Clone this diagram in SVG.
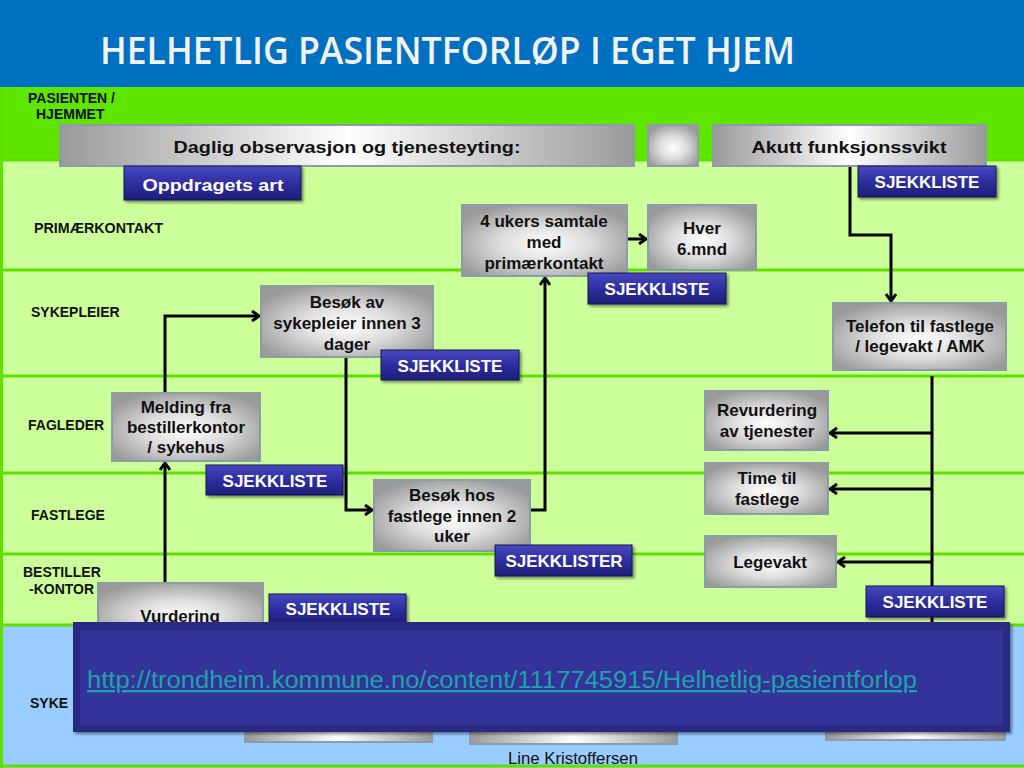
<svg xmlns="http://www.w3.org/2000/svg" width="1024" height="768" viewBox="0 0 1024 768">
<defs>
<radialGradient id="gray" cx="50%" cy="55%" r="60%">
<stop offset="0" stop-color="#FFFFFF"/>
<stop offset="0.45" stop-color="#DDDDDD"/>
<stop offset="1" stop-color="#9A9A9A"/>
</radialGradient>
<linearGradient id="grayH" x1="0" y1="0" x2="1" y2="0">
<stop offset="0" stop-color="#9A9A9A"/>
<stop offset="0.5" stop-color="#FFFFFF"/>
<stop offset="1" stop-color="#9A9A9A"/>
</linearGradient>
<linearGradient id="btn" x1="0" y1="0" x2="0" y2="1">
<stop offset="0" stop-color="#4848C0"/>
<stop offset="0.5" stop-color="#2E2EA0"/>
<stop offset="1" stop-color="#1E1E78"/>
</linearGradient>
<filter id="sh" x="-10%" y="-20%" width="130%" height="160%">
<feDropShadow dx="2" dy="2" stdDeviation="1.5" flood-color="#000" flood-opacity="0.45"/>
</filter>
<marker id="arr" markerWidth="12" markerHeight="12" refX="9" refY="6" orient="auto" markerUnits="userSpaceOnUse">
<path d="M2,1 L9,6 L2,11" fill="none" stroke="#000" stroke-width="3"/>
</marker>
</defs>
<style>
.node{fill:url(#gray);stroke:#8C9CA8;stroke-width:2}
.wide{fill:url(#grayH);stroke:#8C9CA8;stroke-width:2}
.btn{fill:url(#btn);stroke:#14145A;stroke-width:1;filter:url(#sh)}
.t{font-family:"Liberation Sans",Arial,sans-serif;font-weight:bold;font-size:17px;fill:#111;text-anchor:middle}
.bt{font-family:"Liberation Sans",Arial,sans-serif;font-weight:bold;font-size:17px;fill:#FFFFFF;text-anchor:middle}
.lane{font-family:"Liberation Sans",Arial,sans-serif;font-weight:bold;font-size:14px;fill:#111}
.c{fill:none;stroke:#000;stroke-width:3}
.ln{stroke:#5EE000;stroke-width:3}
</style>
<!-- background -->
<rect x="0" y="0" width="1024" height="768" fill="#CCFF99"/>
<rect x="0" y="0" width="1024" height="87" fill="#0070C0"/>
<rect x="0" y="87" width="1024" height="73" fill="#5EE600"/>
<rect x="0" y="625" width="1024" height="143" fill="#99CCFF"/>
<line class="ln" x1="0" y1="160" x2="1024" y2="160"/>
<line class="ln" x1="0" y1="270" x2="1024" y2="270"/>
<line class="ln" x1="0" y1="376" x2="1024" y2="376"/>
<line class="ln" x1="0" y1="473" x2="1024" y2="473"/>
<line class="ln" x1="0" y1="554" x2="1024" y2="554"/>
<line class="ln" x1="0" y1="625" x2="1024" y2="625"/>
<line class="ln" x1="0" y1="766" x2="1024" y2="766"/>
<line class="ln" x1="1.5" y1="87" x2="1.5" y2="768"/>
<text x="100" y="64" font-family="'Open Sans',sans-serif" font-weight="600" font-size="37" fill="#F2F2F2" textLength="695" lengthAdjust="spacingAndGlyphs">HELHETLIG PASIENTFORLØP I EGET HJEM</text>
<!-- lane labels -->
<g id="lanes">
<text class="lane" x="28" y="103" textLength="87" lengthAdjust="spacingAndGlyphs">PASIENTEN /</text>
<text class="lane" x="36" y="119">HJEMMET</text>
<text class="lane" x="34" y="233" textLength="129" lengthAdjust="spacingAndGlyphs">PRIMÆRKONTAKT</text>
<text class="lane" x="31" y="317">SYKEPLEIER</text>
<text class="lane" x="28" y="430">FAGLEDER</text>
<text class="lane" x="31" y="520">FASTLEGE</text>
<text class="lane" x="23" y="577">BESTILLER</text>
<text class="lane" x="29" y="594">-KONTOR</text>
<text class="lane" x="30" y="708">SYKE</text>
</g>
<!-- connectors -->
<g id="connectors">
<path class="c" d="M165,583 V463" marker-end="url(#arr)"/>
<path class="c" d="M165,393 V316 H259" marker-end="url(#arr)"/>
<path class="c" d="M346,357 V510 H372" marker-end="url(#arr)"/>
<path class="c" d="M530,510 H545 V278" marker-end="url(#arr)"/>
<path class="c" d="M627,239 H646" marker-end="url(#arr)"/>
<path class="c" d="M850,166 V235 H891 V301" marker-end="url(#arr)"/>
<path class="c" d="M932,376 V630"/>
<path class="c" d="M932,433 H830" marker-end="url(#arr)"/>
<path class="c" d="M932,489 H830" marker-end="url(#arr)"/>
<path class="c" d="M932,562 H838" marker-end="url(#arr)"/>
</g>
<!-- nodes -->
<g id="n-daglig"><rect class="wide" x="60" y="125" width="574" height="41"/><text class="t" x="347" y="153" font-size="20" textLength="347" lengthAdjust="spacingAndGlyphs">Daglig observasjon og tjenesteyting:</text></g>
<g id="n-square"><rect class="node" x="648" y="125" width="50" height="41"/></g>
<g id="n-akutt"><rect class="wide" x="713" y="125" width="273" height="41"/><text class="t" x="849" y="153" font-size="20" textLength="195" lengthAdjust="spacingAndGlyphs">Akutt funksjonssvikt</text></g>
<g id="b-oppdrag"><rect class="btn" x="124" y="166" width="177" height="34"/><text class="bt" x="213" y="191" font-size="20" textLength="141" lengthAdjust="spacingAndGlyphs">Oppdragets art</text></g>
<g id="b-sjekk1"><rect class="btn" x="858" y="166" width="138" height="31"/><text class="bt" x="927" y="188">SJEKKLISTE</text></g>
<g id="n-4uker"><rect class="node" x="462" y="205" width="165" height="71"/><text class="t" x="544" y="227">4 ukers samtale</text><text class="t" x="544" y="248">med</text><text class="t" x="544" y="269">primærkontakt</text></g>
<g id="n-hver"><rect class="node" x="648" y="205" width="108" height="65"/><text class="t" x="702" y="234">Hver</text><text class="t" x="702" y="255">6.mnd</text></g>
<g id="b-sjekk2"><rect class="btn" x="588" y="273" width="138" height="31"/><text class="bt" x="657" y="295">SJEKKLISTE</text></g>
<g id="n-besokav"><rect class="node" x="261" y="286" width="172" height="71"/><text class="t" x="347" y="308">Besøk av</text><text class="t" x="347" y="329">sykepleier innen 3</text><text class="t" x="347" y="350">dager</text></g>
<g id="b-sjekk3"><rect class="btn" x="381" y="350" width="138" height="30"/><text class="bt" x="450" y="372">SJEKKLISTE</text></g>
<g id="n-telefon"><rect class="node" x="833" y="303" width="173" height="67"/><text class="t" x="920" y="332">Telefon til fastlege</text><text class="t" x="920" y="352">/ legevakt / AMK</text></g>
<g id="n-melding"><rect class="node" x="112" y="393" width="148" height="68"/><text class="t" x="186" y="413">Melding fra</text><text class="t" x="186" y="433">bestillerkontor</text><text class="t" x="186" y="453">/ sykehus</text></g>
<g id="b-sjekk4"><rect class="btn" x="206" y="465" width="137" height="30"/><text class="bt" x="275" y="487">SJEKKLISTE</text></g>
<g id="n-besokhos"><rect class="node" x="374" y="480" width="156" height="71"/><text class="t" x="452" y="501">Besøk hos</text><text class="t" x="452" y="522">fastlege innen 2</text><text class="t" x="452" y="542">uker</text></g>
<g id="b-sjekk5"><rect class="btn" x="495" y="545" width="137" height="31"/><text class="bt" x="564" y="567">SJEKKLISTER</text></g>
<g id="n-revurd"><rect class="node" x="705" y="391" width="123" height="59"/><text class="t" x="767" y="416">Revurdering</text><text class="t" x="767" y="437">av tjenester</text></g>
<g id="n-time"><rect class="node" x="705" y="463" width="123" height="51"/><text class="t" x="767" y="484">Time til</text><text class="t" x="767" y="505">fastlege</text></g>
<g id="n-legevakt"><rect class="node" x="705" y="536" width="131" height="51"/><text class="t" x="770" y="568">Legevakt</text></g>
<g id="b-sjekk6"><rect class="btn" x="866" y="586" width="138" height="31"/><text class="bt" x="935" y="608">SJEKKLISTE</text></g>
<g id="n-vurdering"><rect class="node" x="98" y="583" width="165" height="60"/><text class="t" x="180" y="622">Vurdering</text></g>
<g id="b-sjekk7"><rect class="btn" x="269" y="594" width="137" height="30"/><text class="bt" x="338" y="615">SJEKKLISTE</text></g>
<!-- hidden lower nodes (bottom edges visible) -->
<g id="n-low1"><rect class="wide" x="245" y="700" width="187" height="42"/></g>
<g id="n-low2"><rect class="wide" x="470" y="700" width="207" height="44"/></g>
<g id="n-low3"><rect class="wide" x="826" y="700" width="179" height="40"/></g>
<!-- overlay -->
<g id="overlay">
<rect x="73" y="622" width="937" height="110" fill="#2C2C85" filter="url(#sh)"/>
<rect x="80" y="630" width="923" height="95" fill="#333399"/>
<text x="87" y="688" font-family="'Liberation Sans',Arial,sans-serif" font-size="23.5" fill="#1FA3A8" text-decoration="underline" textLength="830" lengthAdjust="spacingAndGlyphs">http://trondheim.kommune.no/content/1117745915/Helhetlig-pasientforlop</text>
</g>
<text x="573" y="764" font-family="'Liberation Sans',Arial,sans-serif" font-size="16" fill="#111" text-anchor="middle" textLength="130" lengthAdjust="spacingAndGlyphs">Line Kristoffersen</text>
</svg>
